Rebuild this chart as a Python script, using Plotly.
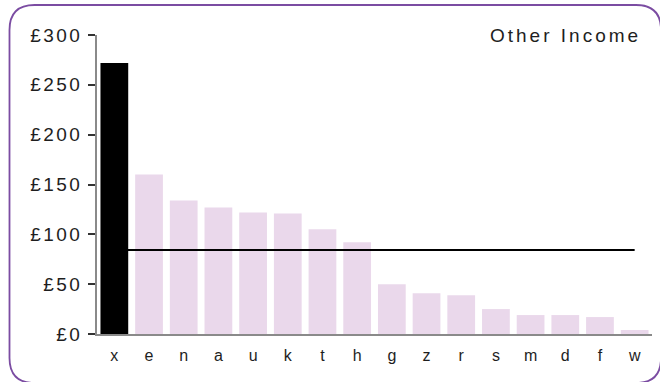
import plotly.graph_objects as go

# Other income per member, highest first; the first member is highlighted
categories = ["x", "e", "n", "a", "u", "k", "t", "h", "g", "z", "r", "s", "m", "d", "f", "w"]
values = [272, 160, 134, 127, 122, 121, 105, 92, 50, 41, 39, 25, 19, 19, 17, 4]
highlight = "x"
y_ticks = [0, 50, 100, 150, 200, 250, 300]
y_tick_labels = ["£0", "£50", "£100", "£150", "£200", "£250", "£300"]
title_text = "Other Income"

average = sum(values) / len(values)

W, H = 660, 382
ML, MR, MT, MB = 97, 8, 35, 48
PW, PH = W - ML - MR, H - MT - MB

PINK = "#EAD8EB"
AXIS = "#8a8a8a"
TEXT = "#1e1e1e"
BORDER = "#7B4CA2"
FONT = "Liberation Sans, Arial, sans-serif"


def spaced(s, px):
    return f'<span style="letter-spacing:{px}px">{s}</span>'


def px_to_paper(x, y):
    return (x - ML) / PW, (H - MB - y) / PH


others_x = [c for c in categories if c != highlight]
others_y = [v for c, v in zip(categories, values) if c != highlight]
hl_y = [v for c, v in zip(categories, values) if c == highlight]

fig = go.Figure()
fig.add_trace(go.Bar(x=others_x, y=others_y, marker=dict(color=PINK, line=dict(width=0)),
                     width=0.8, yaxis="y", showlegend=False))
fig.add_trace(go.Scatter(x=categories, y=[average] * len(categories), mode="lines",
                         line=dict(color="#000000", width=2), yaxis="y", showlegend=False))
# highlighted bar sits on an overlaid axis so it is drawn over the average line
fig.add_trace(go.Bar(x=[highlight], y=hl_y, marker=dict(color="#000000", line=dict(width=0)),
                     width=0.8, yaxis="y2", showlegend=False))

# rounded frame around the whole chart
left, top, right, bottom, r = 9.5, 5.0, 661.0, 383.0, 25.0
pts = [
    ("M", [(left + r, top)]),
    ("L", [(right - r, top)]),
    ("Q", [(right, top), (right, top + r)]),
    ("L", [(right, bottom - r)]),
    ("Q", [(right, bottom), (right - r, bottom)]),
    ("L", [(left + r, bottom)]),
    ("Q", [(left, bottom), (left, bottom - r)]),
    ("L", [(left, top + r)]),
    ("Q", [(left, top), (left + r, top)]),
]
path = ""
for cmd, coords in pts:
    path += cmd + " ".join("%.5f,%.5f" % px_to_paper(x, y) for x, y in coords) + " "
path += "Z"

yaxis_common = dict(range=[0, 300], fixedrange=True)

fig.update_layout(
    width=W, height=H,
    margin=dict(l=ML, r=MR, t=MT, b=MB, pad=0),
    paper_bgcolor="white", plot_bgcolor="white",
    barmode="overlay",
    font=dict(family=FONT, color=TEXT),
    xaxis=dict(
        type="category", categoryorder="array", categoryarray=categories,
        range=[-0.5, len(categories) - 0.5],
        showline=True, linecolor=AXIS, linewidth=1.5,
        showgrid=False, zeroline=False, ticks="",
        tickfont=dict(size=16, color=TEXT, family=FONT),
        ticklabelstandoff=6,
    ),
    yaxis=dict(
        **yaxis_common,
        tickmode="array", tickvals=y_ticks,
        ticktext=[spaced(t, 2.5) for t in y_tick_labels],
        showline=True, linecolor=AXIS, linewidth=1.5,
        ticks="outside", ticklen=7, tickwidth=1.5, tickcolor="#333333",
        showgrid=False, zeroline=False,
        tickfont=dict(size=19, color=TEXT, family=FONT),
        ticklabelstandoff=2,
    ),
    yaxis2=dict(**yaxis_common, overlaying="y", visible=False),
    shapes=[dict(type="path", xref="paper", yref="paper", path=path,
                 line=dict(color=BORDER, width=1.8), fillcolor="rgba(0,0,0,0)")],
    annotations=[dict(
        text=spaced(title_text, 3), xref="paper", yref="paper",
        x=px_to_paper(643, 0)[0], y=px_to_paper(0, 35)[1],
        xanchor="right", yanchor="middle", showarrow=False,
        font=dict(size=19, color=TEXT, family=FONT),
    )],
)

fig.write_html("out.html")
